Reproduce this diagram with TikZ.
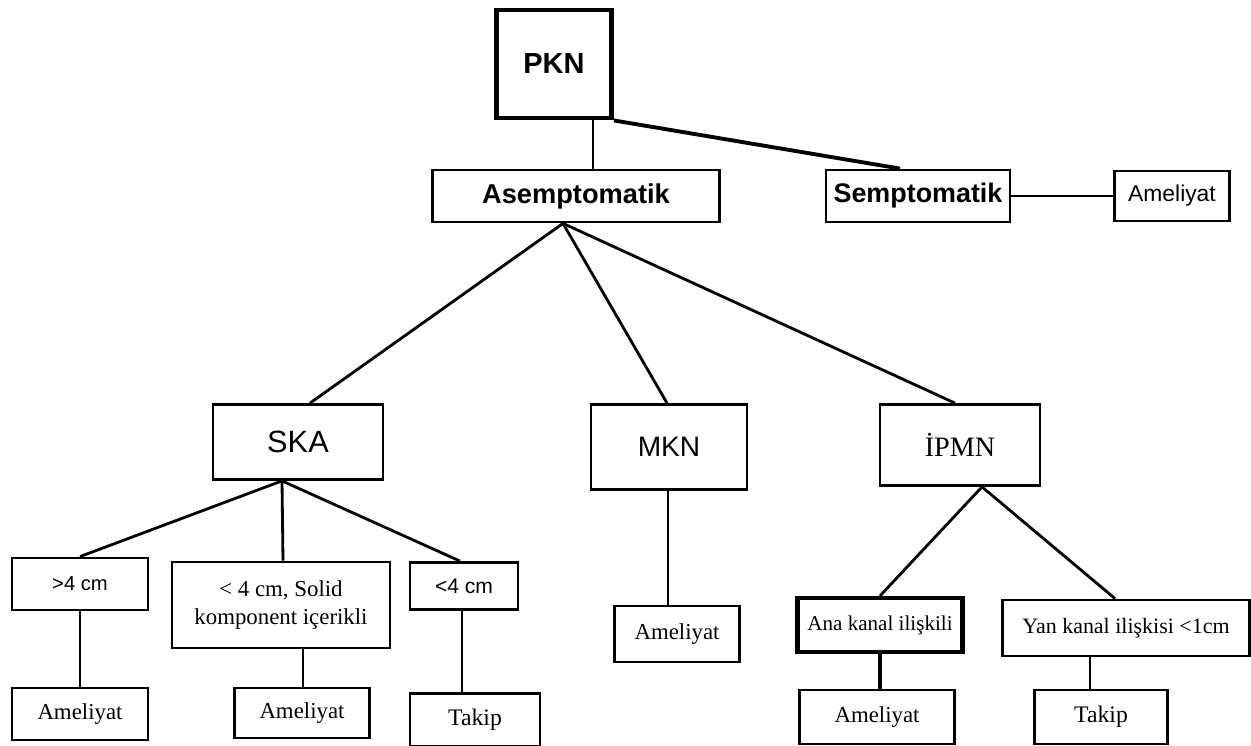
\documentclass[tikz,border=0pt]{standalone}
\usepackage{fontspec}
\setmainfont{Liberation Serif}
\newfontfamily\arialfont{Liberation Sans}
\usetikzlibrary{calc,
                positioning}

\begin{document}
\begin{tikzpicture}[
			x=0.02cm, y=-0.02cm,
			line width=1.6pt,
			box/.style = {draw, rectangle, inner sep=0pt, align=center},
			sz/.style 2 args = {minimum width=#1*0.02cm, minimum height=#2*0.02cm},
			sans/.style = {font=\arialfont\fontsize{#1}{#1}\selectfont},
			bsans/.style = {font=\arialfont\bfseries\fontsize{#1}{#1}\selectfont},
			serif/.style = {font=\fontsize{#1}{15.5}\selectfont},
			]
			\useasboundingbox (0,0) rectangle (1251,746);
			% top
			\node[box, sz={115}{108}, line width=2.8pt, bsans=16.5] (pkn) at (554,64) {PKN};
			\node[box, sz={287}{52}, bsans=15.5] (asem) at (576,196) {Asemptomatik};
			\node[box, sz={184}{52}, bsans=15.3] (semp) at (918,196) {Semptomatik};
			\node[box, sz={115}{50}, sans=13] (amel0) at (1172,196) {Ameliyat};
			% middle
			\node[box, sz={170}{75}, sans=17.5] (ska) at (298,442) {SKA};
			\node[box, sz={156}{85}, sans=16] (mkn) at (669,447) {MKN};
			\node[box, sz={160}{81}, serif=16] (ipmn) at (960,445) {İPMN};
			% SKA branch
			\node[box, sz={136}{52}, sans=11.5] (gt4) at (80,584) {>4 cm};
			\node[box, sz={218}{86}, serif=13] (solid) at (281,605) {< 4 cm, Solid\\komponent içerikli};
			\node[box, sz={108}{47}, sans=12] (lt4) at (464,586) {<4 cm};
			\node[box, sz={136}{52}, serif=13] (amel1) at (80,714) {Ameliyat};
			\node[box, sz={135}{50}, serif=13] (amel2) at (302,713) {Ameliyat};
			\node[box, sz={130}{53}, serif=13.5] (takip1) at (475,720) {Takip};
			% MKN branch
			\node[box, sz={125}{56}, serif=13] (amel3) at (677,634) {Ameliyat};
			% IPMN branch
			\node[box, sz={165}{54}, line width=2.4pt, serif=12] (ana) at (880,625) {Ana kanal ilişkili};
			\node[box, sz={247}{56}, serif=12.5] (yan) at (1126,628) {Yan kanal ilişkisi <1cm};
			\node[box, sz={155}{54}, serif=13] (amel4) at (877,717) {Ameliyat};
			\node[box, sz={133}{54}, serif=13.5] (takip2) at (1101,717) {Takip};
			% edges
			\draw ($(pkn.south)+(39,0)$) coordinate (p1) -- (p1 |- asem.north);
			\draw[line width=2.2pt] (pkn.south east) -- ($(semp.north)+(-18,0)$);
			\draw (semp.east) -- (amel0.west);
			\coordinate (a1) at ($(asem.south)+(-13,0)$);
			\draw (a1) -- ($(ska.north)+(12,0)$);
			\draw (a1) -- ($(mkn.north)+(-2,0)$);
			\draw (a1) -- ($(ipmn.north)+(-5,0)$);
			\coordinate (s1) at ($(ska.south)+(-16,0)$);
			\draw (s1) -- (gt4.north);
			\draw (s1) -- ($(solid.north)+(2,0)$);
			\draw (s1) -- ($(lt4.north)+(-4,0)$);
			\draw (gt4.south) -- (amel1.north);
			\draw ($(solid.south)+(22,0)$) coordinate (s2) -- (s2 |- amel2.north);
			\draw ($(lt4.south)+(-2,0)$) coordinate (s3) -- (s3 |- takip1.north);
			\draw ($(mkn.south)+(-1,0)$) coordinate (m1) -- (m1 |- amel3.north);
			\coordinate (i1) at ($(ipmn.south)+(22,0)$);
			\draw (i1) -- (ana.north);
			\draw (i1) -- ($(yan.north)+(-11,0)$);
			\draw[line width=2.8pt] (ana.south) -- (amel4.north -| ana.south);
			\draw ($(yan.south)+(-36,0)$) coordinate (y1) -- (y1 |- takip2.north);
		\end{tikzpicture}
\end{document}
